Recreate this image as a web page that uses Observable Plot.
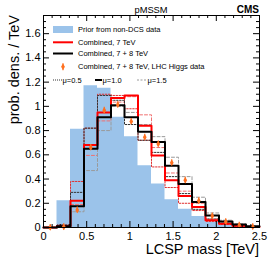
<!DOCTYPE html>
<html><head><meta charset="utf-8">
<script src="https://cdn.jsdelivr.net/npm/d3@7"></script>
<script src="https://cdn.jsdelivr.net/npm/@observablehq/plot@0.6"></script>
<style>
body{margin:0;background:#fff;}
#wrap{position:relative;width:274px;height:263px;}
#wrap svg{position:absolute;left:0;top:0;}
</style></head><body><div id="wrap"></div>
<script>
// bin edges in TeV (16 bins)
const binEdges = [0, 0.15625, 0.3125, 0.46875, 0.625, 0.78125, 0.9375, 1.09375, 1.25, 1.40625, 1.5625, 1.71875, 1.875, 2.03125, 2.1875, 2.34375, 2.5];
// series (prob. density / TeV per bin)
const prior      = [0, 0.22, 0.81, 1.17, 1.15, 0.91, 0.75, 0.51, 0.36, 0.23, 0.15, 0.09, 0.045, 0.02, 0.01, 0.005];
const comb7      = [0, 0.01, 0.22, 0.68, 0.95, 1.07, 1.09, 0.84, 0.595, 0.39, 0.26, 0.17, 0.06, 0.03, 0.015, 0.005];
const comb7mu05  = [0, 0.02, 0.38, 0.82, 1.10, 1.09, 0.98, 0.72, 0.50, 0.33, 0.20, 0.14, 0.05, 0.025, 0.01, 0.005];
const comb7mu15  = [0, 0.005, 0.19, 0.595, 0.88, 1.035, 1.08, 0.93, 0.66, 0.45, 0.30, 0.20, 0.07, 0.035, 0.02, 0.005];
const comb78     = [0, 0.01, 0.175, 0.65, 0.91, 1.01, 0.91, 0.79, 0.705, 0.51, 0.36, 0.21, 0.10, 0.05, 0.025, 0.01];
const comb78mu05 = [0, 0.02, 0.29, 0.82, 1.09, 1.05, 0.85, 0.72, 0.62, 0.42, 0.28, 0.15, 0.07, 0.035, 0.015, 0.005];
const comb78mu15 = [0, 0.005, 0.13, 0.47, 0.80, 1.00, 0.95, 0.85, 0.75, 0.58, 0.42, 0.25, 0.12, 0.06, 0.03, 0.01];
const higgs      = [0, 0.005, 0.145, 0.66, 0.967, 1.014, 0.875, 0.745, 0.69, 0.535, 0.39, 0.22, 0.095, 0.047, 0.018, 0.006];
const higgsErr   = [0.025, 0.025, 0.025, 0.025, 0.025, 0.025, 0.025, 0.025, 0.025, 0.025, 0.025, 0.025, 0.025, 0.025, 0.025, 0.025];
// ticks
const xMajor = [0, 0.5, 1, 1.5, 2, 2.5];
const xMinor = d3.range(0, 2.5001, 0.1).filter(v => Math.abs(v*2 - Math.round(v*2)) > 1e-6);
const yMajor = [0, 0.2, 0.4, 0.6, 0.8, 1, 1.2, 1.4, 1.6];
const yMinor = d3.range(0, 1.7501, 0.05).filter(v => Math.abs(v*5 - Math.round(v*5)) > 1e-6);
// legend text
const legendLabels = ["Prior from non-DCS data", "Combined, 7 TeV", "Combined, 7 + 8 TeV", "Combined, 7 + 8 TeV, LHC Higgs data"];
const muLabels = ["\u03bc=0.5", "\u03bc=1.0", "\u03bc=1.5"];

const C = {blue: "#9bc3ea", red: "#ff0000", black: "#000", orange: "#ff7020", pink: "#f07070", dred: "#e03030", grey: "#9a9a9a", dgrey: "#333"};

function steps(vals) {
  const pts = vals.map((v, i) => ({x: binEdges[i], y: v}));
  pts.push({x: binEdges[binEdges.length - 1], y: vals[vals.length - 1]});
  return pts;
}
const centers = higgs.map((v, i) => ({x: (binEdges[i] + binEdges[i+1]) / 2, y: v, e: higgsErr[i]}));

const W = 274, H = 263, mt = 15, mr = 15, mb = 36, ml = 43;
const innerH = H - mt - mb, innerW = W - ml - mr;

const chart = Plot.plot({
  width: W, height: H,
  marginTop: mt, marginRight: mr, marginBottom: mb, marginLeft: ml,
  style: {fontFamily: "'Liberation Sans', Arial, sans-serif", fontSize: "11px", background: "white", color: "black"},
  x: {domain: [0, 2.5], ticks: xMajor, tickSize: 0, tickPadding: 5, tickFormat: d => String(d), label: null},
  y: {domain: [0, 1.75], ticks: yMajor, tickSize: 0, tickPadding: 3, tickFormat: d => String(d), label: null},
  marks: [
    Plot.areaY(steps(prior), {x: "x", y: "y", curve: "step-after", fill: C.blue}),
    Plot.line(steps(comb7mu15), {x: "x", y: "y", curve: "step-after", stroke: C.pink, strokeWidth: 1, strokeDasharray: "3,2"}),
    Plot.line(steps(comb7mu05), {x: "x", y: "y", curve: "step-after", stroke: C.dred, strokeWidth: 1, strokeDasharray: "1.5,1.5"}),
    Plot.line(steps(comb78mu15), {x: "x", y: "y", curve: "step-after", stroke: C.grey, strokeWidth: 1, strokeDasharray: "3,2"}),
    Plot.line(steps(comb78mu05), {x: "x", y: "y", curve: "step-after", stroke: C.dgrey, strokeWidth: 1, strokeDasharray: "1.5,1.5"}),
    Plot.line(steps(comb7), {x: "x", y: "y", curve: "step-after", stroke: C.red, strokeWidth: 2}),
    Plot.line(steps(comb78), {x: "x", y: "y", curve: "step-after", stroke: C.black, strokeWidth: 2}),
    Plot.ruleX(centers, {x: "x", y1: d => d.y - d.e, y2: d => d.y + d.e, stroke: C.orange, strokeWidth: 1.2}),
    Plot.dot(centers, {x: "x", y: "y", symbol: "diamond", r: 2, fill: C.orange, stroke: "none"}),
    // inward ROOT-style ticks
    Plot.tickX(xMajor, {x: d => d, insetTop: innerH - 6, stroke: "black"}),
    Plot.tickX(xMajor, {x: d => d, insetBottom: innerH - 6, stroke: "black"}),
    Plot.tickX(xMinor, {x: d => d, insetTop: innerH - 3, stroke: "black"}),
    Plot.tickX(xMinor, {x: d => d, insetBottom: innerH - 3, stroke: "black"}),
    Plot.tickY(yMajor, {y: d => d, insetRight: innerW - 6, stroke: "black"}),
    Plot.tickY(yMajor, {y: d => d, insetLeft: innerW - 6, stroke: "black"}),
    Plot.tickY(yMinor, {y: d => d, insetRight: innerW - 3, stroke: "black"}),
    Plot.tickY(yMinor, {y: d => d, insetLeft: innerW - 3, stroke: "black"}),
    Plot.frame({stroke: "black"})
  ]
});
const wrap = document.getElementById("wrap");
wrap.appendChild(chart);

// overlay: titles, axis titles and legend
const ov = d3.select(wrap).append("svg").attr("width", W).attr("height", H)
  .style("font-family", "'Liberation Sans', Arial, sans-serif");
ov.append("text").attr("x", 151).attr("y", 12.5).attr("text-anchor", "middle").attr("font-size", 9.3).text("pMSSM");
ov.append("text").attr("x", 259).attr("y", 12.5).attr("text-anchor", "end").attr("font-size", 10).attr("font-weight", "bold").text("CMS");
ov.append("text").attr("x", 259).attr("y", 254).attr("text-anchor", "end").attr("font-size", 14.5).text("LCSP mass [TeV]");
ov.append("text").attr("transform", "translate(18.5,15) rotate(-90)").attr("text-anchor", "end").attr("font-size", 14.5).text("prob. dens. / TeV");

const lg = ov.append("g").attr("font-size", 7.5);
const rowY = [29.5, 42.3, 53.5, 66.7];
lg.append("rect").attr("x", 53).attr("y", rowY[0] - 3.5).attr("width", 20).attr("height", 7).attr("fill", C.blue);
lg.append("line").attr("x1", 53).attr("x2", 73).attr("y1", rowY[1]).attr("y2", rowY[1]).attr("stroke", C.red).attr("stroke-width", 2);
lg.append("line").attr("x1", 53).attr("x2", 73).attr("y1", rowY[2]).attr("y2", rowY[2]).attr("stroke", C.black).attr("stroke-width", 2);
lg.append("line").attr("x1", 63).attr("x2", 63).attr("y1", rowY[3] - 3.5).attr("y2", rowY[3] + 3.5).attr("stroke", C.orange).attr("stroke-width", 1.2);
lg.append("path").attr("transform", `translate(63,${rowY[3]})`).attr("d", d3.symbol(d3.symbolDiamond, 12.6)()).attr("fill", C.orange);
legendLabels.forEach((t, i) => lg.append("text").attr("x", 78).attr("y", rowY[i] + 2.7).text(t));
const muY = 80;
lg.append("line").attr("x1", 53).attr("x2", 62).attr("y1", muY).attr("y2", muY).attr("stroke", C.dgrey).attr("stroke-width", 1).attr("stroke-dasharray", "1,1");
lg.append("line").attr("x1", 95).attr("x2", 102).attr("y1", muY).attr("y2", muY).attr("stroke", C.black).attr("stroke-width", 2);
lg.append("line").attr("x1", 137).attr("x2", 147).attr("y1", muY).attr("y2", muY).attr("stroke", C.grey).attr("stroke-width", 1).attr("stroke-dasharray", "2,1.5");
[62.5, 102.5, 147.5].forEach((x, i) => lg.append("text").attr("x", x).attr("y", muY + 2.7).text(muLabels[i]));
</script></body></html>
